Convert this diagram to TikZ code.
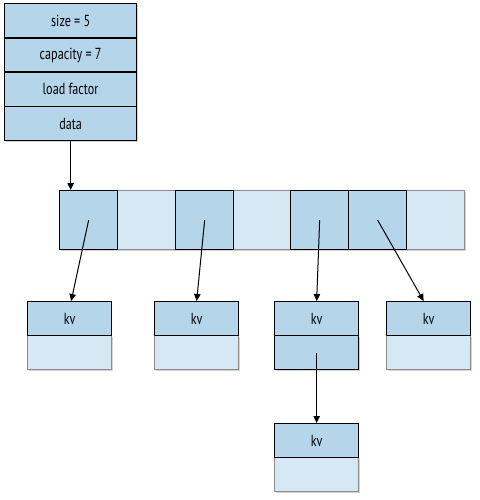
\documentclass[tikz,border=0pt]{standalone}
\usepackage{fontspec}
\setmainfont[FakeStretch=0.76]{PT Sans}
\usetikzlibrary{arrows.meta,calc,shadows}
\definecolor{cellblue}{HTML}{B4D5EA}
\definecolor{paleblue}{HTML}{D7E8F5}
\definecolor{edgegray}{HTML}{8C8C8C}
\tikzset{
  x=1pt, y=-1pt,
  shade/.style={drop shadow={shadow xshift=1.2pt,shadow yshift=-1.5pt,opacity=0.35}},
  labelfont/.style={font=\fontsize{16}{18}\selectfont},
  field/.style={draw=black, line width=1.3pt, fill=cellblue, anchor=north west,
    minimum width=132pt, minimum height=34.25pt, inner sep=0pt, labelfont},
  slot/.style={draw=black, line width=1.3pt, fill=cellblue, anchor=north west,
    minimum width=58pt, minimum height=59pt, inner sep=0pt},
  kvtop/.style={draw=black, line width=1.3pt, fill=cellblue, anchor=north west,
    minimum width=84pt, minimum height=34pt, inner sep=0pt, labelfont},
  kvlow/.style={draw=edgegray, line width=1.2pt, fill=paleblue, anchor=north west,
    minimum width=84pt, minimum height=34pt, inner sep=0pt},
  kvlowfull/.style={draw=black, line width=1.3pt, fill=cellblue, anchor=north west,
    minimum width=84pt, minimum height=34pt, inner sep=0pt},
  ptr/.style={line width=1pt, -{Triangle[length=7pt,width=6.5pt]}}
}
\begin{document}
\begin{tikzpicture}
\useasboundingbox (0,0) rectangle (479,500);

% hash table header
\node[field, shade] (size) at (4,3) {size = 5};
\node[field, shade] (cap) at (4,37.25) {capacity = 7};
\node[field, shade] (load) at (4,71.5) {load factor};
\node[field, shade] (data) at (4,105.75) {data};

% bucket array
\node[draw=edgegray, line width=1.2pt, fill=paleblue, anchor=north west,
  minimum width=405pt, minimum height=59pt, inner sep=0pt, shade] (arr) at (59,190) {};
\node[slot] (c1) at (59,190) {};
\node[slot] (c3) at (175,190) {};
\node[slot] (c5) at (290,190) {};
\node[slot] (c6) at (348,190) {};

% key/value entries
\node[kvlow, shade] (b1) at (27,335) {};
\node[kvtop] (k1) at (27,301) {kv};
\node[kvlow, shade] (b2) at (154,335) {};
\node[kvtop] (k2) at (154,301) {kv};
\node[kvlowfull, shade] (b3) at (274,335) {};
\node[kvtop] (k3) at (274,301) {kv};
\node[kvlow, shade] (b4) at (386,335) {};
\node[kvtop] (k4) at (386,301) {kv};
\node[kvlow, shade] (b5) at (274,457) {};
\node[kvtop] (k5) at (274,423) {kv};

% pointers
\draw[ptr] (data.south) -- (data.south |- c1.north);
\draw[ptr] (c1.center) -- ([xshift=1.5pt]k1.north);
\draw[ptr] (c3.center) -- (k2.north);
\draw[ptr] (c5.center) -- (k3.north);
\draw[ptr] (c6.center) -- ([xshift=-5pt]k4.north);
\draw[ptr] (b3.center) -- (k5.north);
\end{tikzpicture}
\end{document}
